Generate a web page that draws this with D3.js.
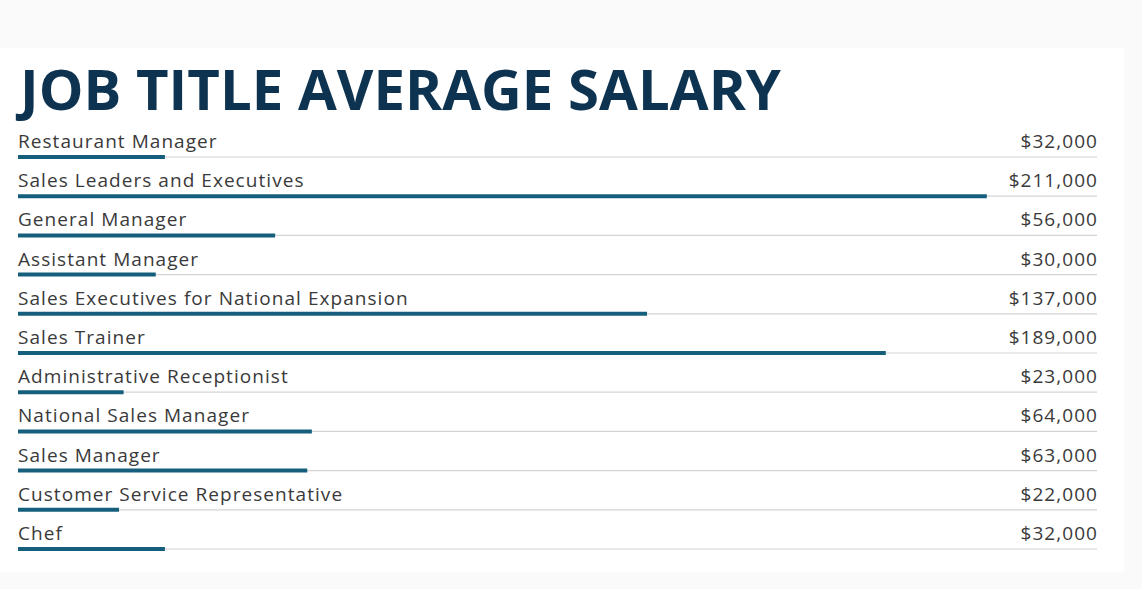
<!DOCTYPE html>
<html>
<head>
<meta charset="utf-8">
<script src="https://cdn.jsdelivr.net/npm/d3@7"></script>
<style>
  html, body { margin: 0; padding: 0; background: #ffffff; }
  #chart { width: 1142px; height: 589px; }
</style>
</head>
<body>
<div id="chart"></div>
<script>
// job title salary bars, flat list, one row per title

const jobTitles = [
  "Restaurant Manager",
  "Sales Leaders and Executives",
  "General Manager",
  "Assistant Manager",
  "Sales Executives for National Expansion",
  "Sales Trainer",
  "Administrative Receptionist",
  "National Sales Manager",
  "Sales Manager",
  "Customer Service Representative",
  "Chef"
];

const salaries = [32000, 211000, 56000, 30000, 137000, 189000, 23000, 64000, 63000, 22000, 32000];

const chartTitle = "JOB TITLE AVERAGE SALARY";

const W = 1142, H = 589;
const left = 18, right = 1097;

const svg = d3.select("#chart").append("svg")
  .attr("width", W)
  .attr("height", H);

// faint page + card, barely visible in the original
svg.append("rect").attr("width", W).attr("height", H).attr("fill", "#fafafa");
svg.append("rect")
  .attr("x", 0).attr("y", 48)
  .attr("width", 1124).attr("height", 524)
  .attr("fill", "#ffffff");

const title = svg.append("text")
  .attr("x", left + 2)
  .attr("y", 110)
  .attr("fill", "#0d3350")
  .attr("font-family", "'Open Sans', sans-serif")
  .attr("font-weight", 700)
  .attr("font-size", 56)
  .text(chartTitle);

// fit title to the width it has in the picture
title.attr("textLength", 761).attr("lengthAdjust", "spacingAndGlyphs");

const x = d3.scaleLinear().domain([0, 235000]).range([left, right]);

// 11 rows, 39.2px apart
const y = d3.scaleBand()
  .domain(jobTitles)
  .range([118, 118 + 39.2 * jobTitles.length]);

const rows = svg.selectAll(".row")
  .data(jobTitles.map((t, i) => ({ title: t, value: salaries[i] })))
  .join("g")
  .attr("class", "row")
  .attr("transform", d => `translate(0,${y(d.title)})`);

const lineY = 39;

rows.append("line")
  .attr("x1", left)
  .attr("x2", right)
  .attr("y1", lineY)
  .attr("y2", lineY)
  .attr("stroke", "#d4d4d4")
  .attr("stroke-width", 1.2);

rows.append("line")
  .attr("x1", left)
  .attr("x2", d => x(d.value))
  .attr("y1", lineY)
  .attr("y2", lineY)
  .attr("stroke", "#155f7d")
  .attr("stroke-width", 4);

rows.append("text")
  .attr("x", left)
  .attr("y", lineY - 9)
  .attr("fill", "#3a3a3a")
  .attr("font-family", "'Open Sans', sans-serif")
  .attr("font-size", 19)
  .attr("letter-spacing", 1.05)
  .text(d => d.title);

rows.append("text")
  .attr("x", right + 1)
  .attr("y", lineY - 9)
  .attr("text-anchor", "end")
  .attr("fill", "#3a3a3a")
  .attr("font-family", "'Open Sans', sans-serif")
  .attr("font-size", 19)
  .attr("letter-spacing", 1.05)
  .text(d => d3.format("$,")(d.value));
</script>
</body>
</html>
